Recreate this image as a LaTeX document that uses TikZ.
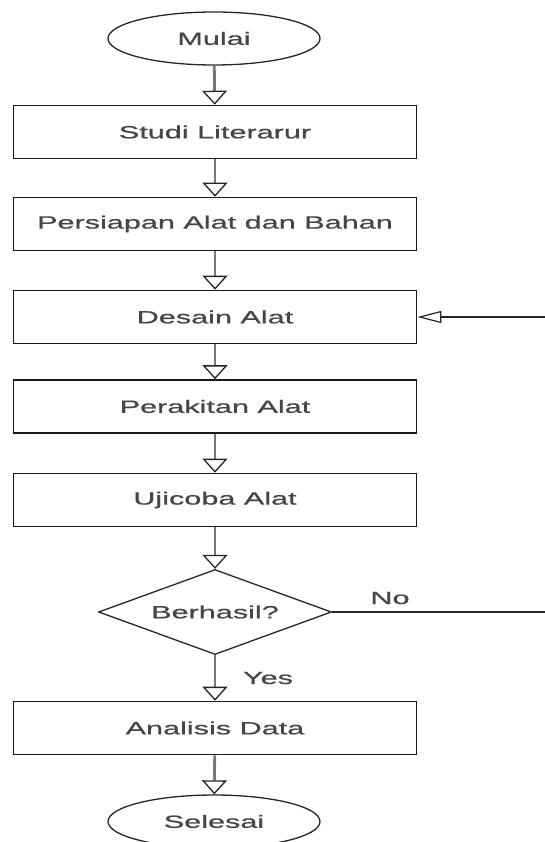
\documentclass[tikz,border=0pt]{standalone}
\usepackage{fontspec}
\setmainfont{Liberation Sans}[FakeStretch=1.73, FakeBold=0.8]
\usepackage{tikz}
\usetikzlibrary{arrows.meta, positioning, shapes.geometric}
\definecolor{linegray}{RGB}{120,120,120}
\definecolor{textgray}{RGB}{70,70,70}

\begin{document}
\begin{tikzpicture}[x=1pt, y=-1pt,
  every node/.style={text=textgray, font=\fontsize{17.7}{21}\selectfont},
  terminal/.style={draw=black!85, line width=1.3pt, ellipse, minimum width=212pt, minimum height=53pt, inner sep=0pt},
  process/.style={draw=black!90, line width=1.6pt, rectangle, minimum width=403pt, minimum height=53pt, inner sep=0pt},
  decision/.style={draw=black!85, line width=1.3pt, diamond, shape aspect=2.74, minimum width=233pt, minimum height=85pt, inner sep=0pt},
  flow/.style={draw=linegray, line width=2.8pt, -{Triangle[open, length=14pt, width=25pt, line width=1.3pt, color=black!85]}},
  loopline/.style={draw=black!85, line width=1.2pt, -{Triangle[open, length=24pt, width=12pt]}}]
  \useasboundingbox (0,0) rectangle (544,842);

  % Start and end
  \node[terminal] (mulai) at (214,38.5) {Mulai};
  \node[terminal] (selesai) at (214,821.5) {Selesai};

  % Steps
  \node[process] (studi) at (215,132) {Studi Literarur};
  \node[process] (persiapan) at (215,224) {Persiapan Alat dan Bahan};
  \node[process] (desain) at (215,317) {Desain Alat};
  \node[process] (perakitan) at (215,406.5) {Perakitan Alat};
  \node[process] (ujicoba) at (215,500) {Ujicoba Alat};
  \node[decision] (berhasil) at (215,612) {Berhasil?};
  \node[process] (analisis) at (215,728) {Analisis Data};

  % Flow
  \draw[flow] (mulai) -- (studi);
  \draw[flow] (studi) -- (persiapan);
  \draw[flow] (persiapan) -- (desain);
  \draw[flow] (desain) -- (perakitan);
  \draw[flow] (perakitan) -- (ujicoba);
  \draw[flow] (ujicoba) -- (berhasil);
  \draw[flow] (berhasil) -- (analisis);
  \draw[flow] (analisis) -- (selesai);

  % Loop back
  \coordinate (loopout) at (560,612);
  \draw[loopline] (berhasil.east) -- (loopout) |- (desain.east);
  \node (no) at (390,598) {No};
  \node (yes) at (268,678) {Yes};
\end{tikzpicture}
\end{document}
